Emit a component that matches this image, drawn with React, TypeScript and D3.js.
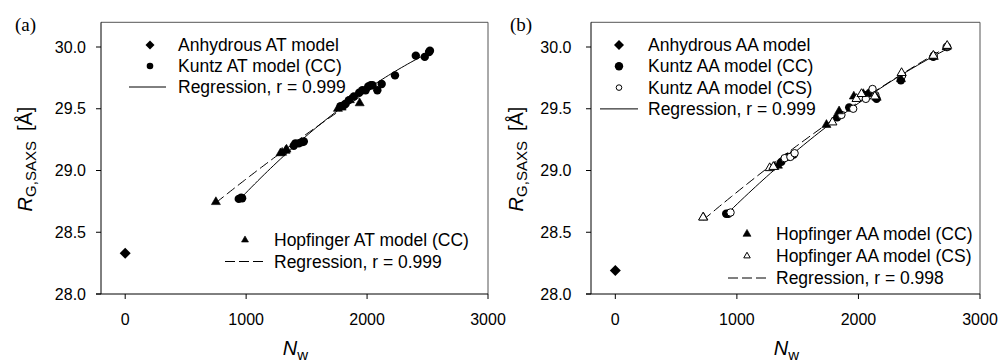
import React from 'react';
import * as d3 from 'd3';

type Pt = [number, number];

const xTicks = [0, 1000, 2000, 3000];
const yTicks = [28.0, 28.5, 29.0, 29.5, 30.0];
const xDomain: [number, number] = [-200, 3000];
const yDomain: [number, number] = [28.0, 30.2];

// Panel (a) – AT models
const anhydrousAT: Pt[] = [[0, 28.33]];
const kuntzATCC: Pt[] = [
  [939, 28.77], [959, 28.78], [967, 28.775], [1394, 29.2], [1408, 29.22], [1436, 29.22], [1464, 29.23],
  [1477, 29.235], [1781, 29.52], [1810, 29.53], [1823, 29.54], [1850, 29.57], [1891, 29.6],
  [1935, 29.63], [1961, 29.65], [1988, 29.65], [2010, 29.68], [2030, 29.69], [2045, 29.69],
  [2085, 29.65], [2121, 29.7], [2231, 29.77], [2403, 29.93], [2477, 29.92], [2513, 29.96], [2520, 29.97],
];
const hopfingerATCC: Pt[] = [
  [750, 28.745], [1284, 29.14], [1298, 29.145], [1326, 29.16], [1334, 29.17],
  [1759, 29.5], [1790, 29.51], [1858, 29.57], [1939, 29.545],
];

// Panel (b) – AA models
const anhydrousAA: Pt[] = [[0, 28.19]];
const kuntzAACC: Pt[] = [
  [912, 28.65], [930, 28.65], [1366, 29.07], [1420, 29.11], [1467, 29.13], [1825, 29.43],
  [1847, 29.45], [1924, 29.51], [2061, 29.61], [2094, 29.63], [2149, 29.58], [2349, 29.73],
  [2616, 29.92], [2726, 30.0],
];
const kuntzAACS: Pt[] = [
  [948, 28.66], [1393, 29.1], [1440, 29.11], [1475, 29.14], [1860, 29.45], [1957, 29.5],
  [2061, 29.58], [2116, 29.66], [2140, 29.61], [2360, 29.77], [2620, 29.93], [2730, 30.0],
];
const hopfingerAACC: Pt[] = [
  [725, 28.62], [1310, 29.03], [1338, 29.04], [1737, 29.37], [1841, 29.48], [1962, 29.6],
  [2040, 29.62], [2150, 29.59], [2350, 29.74], [2620, 29.92], [2726, 30.0],
];
const hopfingerAACS: Pt[] = [
  [722, 28.62], [1270, 29.02], [1300, 29.03], [1786, 29.39], [1984, 29.58], [2025, 29.62],
  [2135, 29.6], [2355, 29.79], [2616, 29.93], [2730, 30.01],
];

const legendTopA = ['Anhydrous AT model', 'Kuntz AT model (CC)', 'Regression, r = 0.999'];
const legendBottomA = ['Hopfinger AT model (CC)', 'Regression, r = 0.999'];
const legendTopB = ['Anhydrous AA model', 'Kuntz AA model (CC)', 'Kuntz AA model (CS)', 'Regression, r = 0.999'];
const legendBottomB = ['Hopfinger AA model (CC)', 'Hopfinger AA model (CS)', 'Regression, r = 0.998'];

const SANS = '"Liberation Sans", Arial, Helvetica, sans-serif';
const SERIF = '"Liberation Serif", "Times New Roman", serif';

function quadFit(pts: Pt[]) {
  const m = d3.mean(pts, (p) => p[0]) as number;
  const S = [0, 0, 0, 0, 0];
  const T = [0, 0, 0];
  for (const [x, y] of pts) {
    const u = x - m;
    let p = 1;
    for (let k = 0; k < 5; k++) { S[k] += p; p *= u; }
    T[0] += y; T[1] += y * u; T[2] += y * u * u;
  }
  const A = [[S[0], S[1], S[2]], [S[1], S[2], S[3]], [S[2], S[3], S[4]]];
  const det = (M: number[][]) =>
    M[0][0] * (M[1][1] * M[2][2] - M[1][2] * M[2][1]) -
    M[0][1] * (M[1][0] * M[2][2] - M[1][2] * M[2][0]) +
    M[0][2] * (M[1][0] * M[2][1] - M[1][1] * M[2][0]);
  const D = det(A);
  const coef = [0, 1, 2].map((c) => {
    const M = A.map((row, i) => row.map((v, j) => (j === c ? T[i] : v)));
    return det(M) / D;
  });
  return (x: number) => {
    const u = x - m;
    return coef[0] + coef[1] * u + coef[2] * u * u;
  };
}

type Shape = 'diamond' | 'circle' | 'circleOpen' | 'tri' | 'triOpen';

function Marker({ x, y, shape, s }: { x: number; y: number; shape: Shape; s: number }) {
  if (shape === 'diamond') {
    return <path d={`M${x},${y - s}L${x + s},${y}L${x},${y + s}L${x - s},${y}Z`} fill="#000" />;
  }
  if (shape === 'circle' || shape === 'circleOpen') {
    const open = shape === 'circleOpen';
    return <circle cx={x} cy={y} r={open ? s - 0.5 : s} fill={open ? '#fff' : '#000'} stroke="#000" strokeWidth={open ? 1 : 0} />;
  }
  const open = shape === 'triOpen';
  const h = s * 0.866;
  const d = `M${x},${y - (2 * h) / 3}L${x + s / 2},${y + h / 3}L${x - s / 2},${y + h / 3}Z`;
  return <path d={d} fill={open ? '#fff' : '#000'} stroke="#000" strokeWidth={open ? 1 : 0.6} strokeLinejoin="miter" />;
}

type Series = { data: Pt[]; shape: Shape; size: number };
type LegendItem = { kind: Shape | 'solid' | 'dashed'; label: string; size?: number };

function Panel(props: {
  x0: number; x1: number; label: string; labelX: number; ytickGap: number; yTitleX: number;
  series: Series[]; fits: { data: Pt[]; dashed: boolean }[];
  legendTop: LegendItem[]; legendTopPos: { mx: number; lx0: number; lx1: number; tx: number; y0: number; dy: number };
  legendBottom: LegendItem[]; legendBottomPos: { mx: number; lx0: number; lx1: number; tx: number; y0: number; dy: number };
}) {
  const { x0, x1 } = props;
  const xs = d3.scaleLinear().domain(xDomain).range([x0, x1]);
  const ys = d3.scaleLinear().domain(yDomain).range([294, 22.3]);
  const yTop = ys(yDomain[1]);
  const yBot = ys(yDomain[0]);
  const fmt = d3.format('.1f');
  const line = d3.line<Pt>().x((d) => xs(d[0])).y((d) => ys(d[1]));

  const renderLegend = (items: LegendItem[], pos: typeof props.legendTopPos) =>
    items.map((it, i) => {
      const y = pos.y0 + i * pos.dy;
      let sym: React.ReactNode;
      if (it.kind === 'solid' || it.kind === 'dashed') {
        sym = (
          <line x1={pos.lx0} x2={pos.lx1} y1={y} y2={y} stroke="#000" strokeWidth={1}
            strokeDasharray={it.kind === 'dashed' ? '10,4' : undefined} />
        );
      } else {
        sym = <Marker x={pos.mx} y={y} shape={it.kind} s={it.size || 4} />;
      }
      return (
        <g key={i}>
          {sym}
          <text x={pos.tx} y={y + 6} fontSize={17.5} fontFamily={SANS} fill="#000">{it.label}</text>
        </g>
      );
    });

  return (
    <g>
      <text x={props.labelX} y={31} fontFamily={SERIF} fontSize={19} fill="#000">{props.label}</text>
      {/* frame */}
      <line x1={x0} x2={x1} y1={yTop} y2={yTop} stroke="#555" strokeWidth={1} />
      <line x1={x1} x2={x1} y1={yTop} y2={yBot} stroke="#555" strokeWidth={1} />
      <line x1={x0} x2={x0} y1={yTop} y2={yBot} stroke="#000" strokeWidth={1} />
      <line x1={x0 - 5} x2={x1} y1={yBot} y2={yBot} stroke="#000" strokeWidth={1} />
      {yTicks.map((t) => (
        <g key={t}>
          <line x1={x0 - 5} x2={x0} y1={ys(t)} y2={ys(t)} stroke="#000" />
          <text x={x0 - props.ytickGap} y={ys(t) + 5.7} textAnchor="end" fontSize={16} fontFamily={SANS} fill="#000">{fmt(t)}</text>
        </g>
      ))}
      {xTicks.map((t) => (
        <g key={t}>
          <line x1={xs(t)} x2={xs(t)} y1={yBot} y2={yBot + 5} stroke="#000" />
          <text x={xs(t)} y={325} textAnchor="middle" fontSize={16} fontFamily={SANS} fill="#000">{t}</text>
        </g>
      ))}
      {/* axis titles */}
      <text transform={`translate(${props.yTitleX},159) rotate(-90)`} textAnchor="middle" fontFamily={SANS} fill="#000" fontSize={20}>
        <tspan fontStyle="italic">R</tspan>
        <tspan fontSize={15} dy={4}>G,SAXS</tspan>
        <tspan dy={-4} dx={10}>[Å]</tspan>
      </text>
      <text x={(x0 + x1) / 2 + 1} y={355} textAnchor="middle" fontFamily={SANS} fill="#000" fontSize={20}>
        <tspan fontStyle="italic">N</tspan>
        <tspan fontSize={15} dy={5}>w</tspan>
      </text>
      {/* regression curves */}
      {props.fits.map((f, i) => {
        const fn = quadFit(f.data);
        const [lo, hi] = d3.extent(f.data, (d) => d[0]) as [number, number];
        const pts: Pt[] = d3.range(0, 61).map((k) => {
          const x = lo + ((hi - lo) * k) / 60;
          return [x, fn(x)];
        });
        return <path key={i} d={line(pts) || ''} fill="none" stroke="#000" strokeWidth={1}
          strokeDasharray={f.dashed ? '10,4' : undefined} />;
      })}
      {props.series.map((s, i) => (
        <g key={i}>
          {s.data.map((d, j) => (
            <Marker key={j} x={xs(d[0])} y={ys(d[1])} shape={s.shape} s={s.size} />
          ))}
        </g>
      ))}
      {renderLegend(props.legendTop, props.legendTopPos)}
      {renderLegend(props.legendBottom, props.legendBottomPos)}
    </g>
  );
}

export default function App() {
  return (
    <svg width={999} height={364} viewBox="0 0 999 364"
      style={{ position: 'absolute', left: 0, top: 0, background: '#fff' }}>
      <rect x={0} y={0} width={999} height={364} fill="#fff" />
      <Panel
        x0={101} x1={488} label="(a)" labelX={15} ytickGap={15} yTitleX={32}
        series={[
          { data: anhydrousAT, shape: 'diamond', size: 5.5 },
          { data: hopfingerATCC, shape: 'tri', size: 9 },
          { data: kuntzATCC, shape: 'circle', size: 4.2 },
        ]}
        fits={[{ data: kuntzATCC, dashed: false }, { data: hopfingerATCC, dashed: true }]}
        legendTop={[
          { kind: 'diamond', label: legendTopA[0], size: 4.5 },
          { kind: 'circle', label: legendTopA[1], size: 3.3 },
          { kind: 'solid', label: legendTopA[2] },
        ]}
        legendTopPos={{ mx: 150, lx0: 129, lx1: 166, tx: 178, y0: 45, dy: 21 }}
        legendBottom={[
          { kind: 'tri', label: legendBottomA[0], size: 7 },
          { kind: 'dashed', label: legendBottomA[1] },
        ]}
        legendBottomPos={{ mx: 245, lx0: 225, lx1: 264, tx: 274, y0: 240, dy: 21.5 }}
      />
      <Panel
        x0={591} x1={980} label="(b)" labelX={510} ytickGap={19.5} yTitleX={523}
        series={[
          { data: anhydrousAA, shape: 'diamond', size: 5.5 },
          { data: kuntzAACC, shape: 'circle', size: 4.2 },
          { data: kuntzAACS, shape: 'circleOpen', size: 4.2 },
          { data: hopfingerAACC, shape: 'tri', size: 9 },
          { data: hopfingerAACS, shape: 'triOpen', size: 9 },
        ]}
        fits={[
          { data: kuntzAACC.concat(kuntzAACS), dashed: false },
          { data: hopfingerAACC.concat(hopfingerAACS), dashed: true },
        ]}
        legendTop={[
          { kind: 'diamond', label: legendTopB[0], size: 5 },
          { kind: 'circle', label: legendTopB[1], size: 4.2 },
          { kind: 'circleOpen', label: legendTopB[2], size: 3.3 },
          { kind: 'solid', label: legendTopB[3] },
        ]}
        legendTopPos={{ mx: 619, lx0: 600, lx1: 638, tx: 648, y0: 45, dy: 21.3 }}
        legendBottom={[
          { kind: 'tri', label: legendBottomB[0], size: 8 },
          { kind: 'triOpen', label: legendBottomB[1], size: 6.5 },
          { kind: 'dashed', label: legendBottomB[2] },
        ]}
        legendBottomPos={{ mx: 747, lx0: 728, lx1: 767, tx: 776, y0: 234, dy: 22 }}
      />
    </svg>
  );
}
